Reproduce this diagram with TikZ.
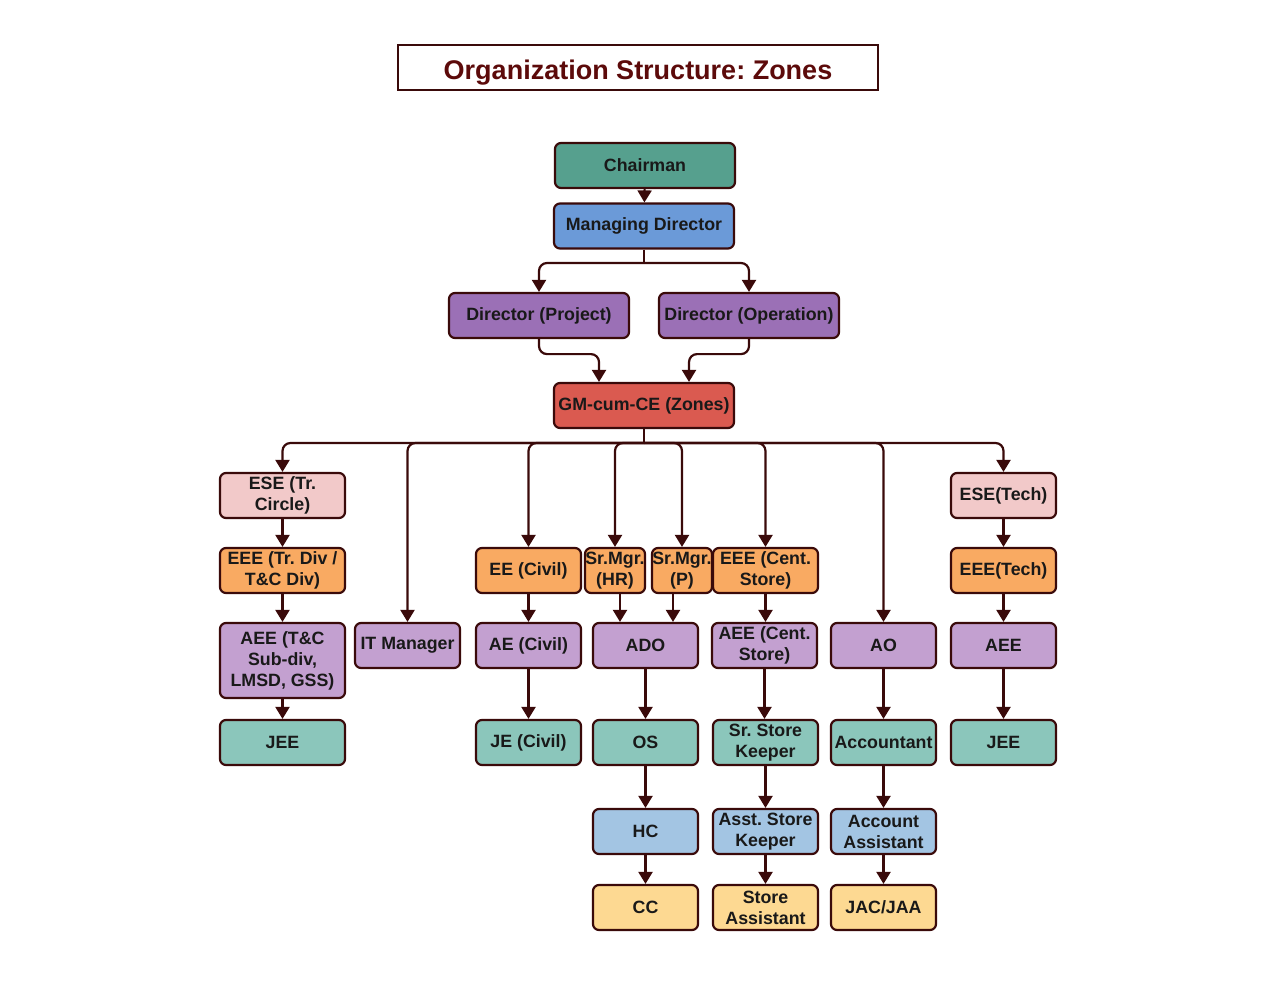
\documentclass[tikz,border=0pt]{standalone}
\usepackage{fontspec}
\setmainfont{Liberation Sans}
\usepackage{xcolor}
\usepackage{tikz}
\usetikzlibrary{arrows.meta, positioning}

\definecolor{linec}{HTML}{3A0A0A}
\definecolor{titlec}{HTML}{5C0A0A}
\definecolor{chairc}{HTML}{56A08E}
\definecolor{mdc}{HTML}{6B9AD8}
\definecolor{dirc}{HTML}{9B70B6}
\definecolor{gmc}{HTML}{DA5A50}
\definecolor{pinkc}{HTML}{F2C9C9}
\definecolor{orangec}{HTML}{F9AA62}
\definecolor{lilacc}{HTML}{C3A0D0}
\definecolor{tealc}{HTML}{8BC6BB}
\definecolor{bluec}{HTML}{A3C5E3}
\definecolor{yellowc}{HTML}{FDD992}

\begin{document}
\frenchspacing
\begin{tikzpicture}[x=0.5pt, y=-0.5pt]
		\tikzset{
			box/.style={rectangle, draw=linec, line width=1.1pt, rounded corners=3pt,
			inner sep=0pt, align=center, minimum height=22.5pt, text=black!90,
			font=\bfseries\fontsize{8.9}{10.5}\selectfont},
			wide/.style={box, minimum width=90pt},
			mid/.style={box, minimum width=62.5pt},
			unit/.style={box, minimum width=52.5pt},
			thin/.style={box, minimum width=30pt},
			line/.style={draw=linec, line width=1.1pt},
			link/.style={line, rounded corners=4pt, -{Triangle[length=6pt, width=7pt]}},
		}
		\useasboundingbox (0,0) rectangle (1275,1001);

		\node[rectangle, draw=linec, line width=1pt, minimum width=240pt, minimum height=22.5pt,
			text height=12pt, text depth=0pt, text=titlec,
			font=\bfseries\fontsize{13.5}{16}\selectfont](title)
			at (638,67.5) {Organization Structure: Zones};

		\node[wide, fill=chairc](chair) at (645,165.5){Chairman};
		\node[wide, fill=mdc](md) at (644,226){Managing Director};
		\node[wide, fill=dirc](dirp) at (539,315.5){Director (Project)};
		\node[wide, fill=dirc](diro) at (749,315.5){Director (Operation)};
		\node[wide, fill=gmc](gm) at (644,405.5){GM-cum-CE (Zones)};

		\node[mid, fill=pinkc](ese1) at (282.5,495.5){ESE (Tr.\\Circle)};
		\node[mid, fill=orangec](eee1) at (282.5,570.5){EEE (Tr. Div /\\T\&C Div)};
		\node[mid, fill=lilacc, minimum height=37.5pt](aee1) at (282.5,660.5){AEE (T\&C\\Sub-div,\\LMSD, GSS)};
		\node[mid, fill=tealc](jee1) at (282.5,742.5){JEE};

		\node[unit, fill=lilacc](itm) at (407.5,645.5){IT Manager};

		\node[unit, fill=orangec](eec) at (528.5,570.5){EE (Civil)};
		\node[unit, fill=lilacc](aec) at (528.5,645.5){AE (Civil)};
		\node[unit, fill=tealc](jec) at (528.5,742.5){JE (Civil)};

		\node[thin, fill=orangec](hr) at (615,570.5){Sr.Mgr.\\(HR)};
		\node[thin, fill=orangec](srp) at (682,570.5){Sr.Mgr.\\(P)};
		\node[unit, fill=lilacc](ado) at (645.5,645.5){ADO};
		\node[unit, fill=tealc](os) at (645.5,742.5){OS};
		\node[unit, fill=bluec](hc) at (645.5,831.5){HC};
		\node[unit, fill=yellowc](cc) at (645.5,907.5){CC};

		\node[unit, fill=orangec](eeecs) at (765.5,570.5){EEE (Cent.\\Store)};
		\node[unit, fill=lilacc](aeecs) at (764.5,645.5){AEE (Cent.\\Store)};
		\node[unit, fill=tealc](ssk) at (765.5,742.5){Sr. Store\\Keeper};
		\node[unit, fill=bluec](ask) at (765.5,831.5){Asst. Store\\Keeper};
		\node[unit, fill=yellowc](sa) at (765.5,907.5){Store\\Assistant};

		\node[unit, fill=lilacc](ao) at (883.5,645.5){AO};
		\node[unit, fill=tealc](acc) at (883.5,742.5){Accountant};
		\node[unit, fill=bluec](aa) at (883.5,831.5){Account\\Assistant};
		\node[unit, fill=yellowc](jac) at (883.5,907.5){JAC/JAA};

		\node[unit, fill=pinkc](eset) at (1003.5,495.5){ESE(Tech)};
		\node[unit, fill=orangec](eeet) at (1003.5,570.5){EEE(Tech)};
		\node[unit, fill=lilacc](aeet) at (1003.5,645.5){AEE};
		\node[unit, fill=tealc](jeet) at (1003.5,742.5){JEE};

		\coordinate(mdbus) at (644,263);
		\coordinate(bus) at (644,443);
		\coordinate(hrout) at (620,593);
		\coordinate(srpout) at (673,593);

		\draw[link](chair) -- (md);
		\draw[line](md.south) -- (mdbus);
		\draw[link](mdbus) -| (dirp.north);
		\draw[link](mdbus) -| (diro.north);
		\draw[link](dirp.south) -- ++(0,15) -| ([xshift=-22.5pt]gm.north);
		\draw[link](diro.south) -- ++(0,15) -| ([xshift=22.5pt]gm.north);

		\draw[line](gm.south) -- (bus);
		\foreach \n in {ese1, itm, eec, hr, srp, eeecs, ao, eset}
			\draw[link](bus) -| (\n.north);

		\foreach \a/\b in {ese1/eee1, eee1/aee1, aee1/jee1, eec/aec, aec/jec,
			ado/os, os/hc, hc/cc, eeecs/aeecs, aeecs/ssk, ssk/ask, ask/sa,
			ao/acc, acc/aa, aa/jac, eset/eeet, eeet/aeet, aeet/jeet}
			\draw[link](\a.south) -- (\a.south |- \b.north);

		\draw[link](hrout) -- (hrout |- ado.north);
		\draw[link](srpout) -- (srpout |- ado.north);

	\end{tikzpicture}
\end{document}
